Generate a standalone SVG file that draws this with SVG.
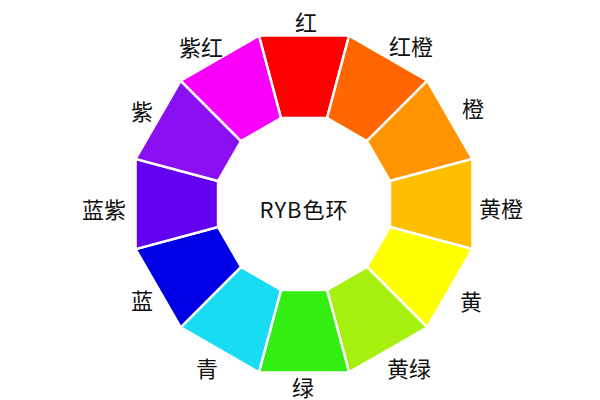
<svg xmlns="http://www.w3.org/2000/svg" width="600" height="400" viewBox="0 0 600 400">
<style>
.seg{stroke:#fff;stroke-width:2.5;stroke-linejoin:miter}
.lbl{font-family:"Noto Sans CJK SC","Noto Sans",sans-serif;font-size:22px;fill:#111;text-anchor:middle;dominant-baseline:central}
</style>
<rect width="600" height="400" fill="#fff"/>
<g id="red"><polygon class="seg" fill="#FF0000" points="258.86,35.55 349.14,35.55 327.03,118.03 280.97,118.03"/><text class="lbl" x="306" y="21">红</text></g>
<g id="red-orange"><polygon class="seg" fill="#FF6600" points="349.14,35.55 427.32,80.68 366.93,141.07 327.03,118.03"/><text class="lbl" x="411" y="45">红橙</text></g>
<g id="orange"><polygon class="seg" fill="#FF9400" points="427.32,80.68 472.45,158.86 389.97,181.03 366.93,141.07"/><text class="lbl" x="473" y="107">橙</text></g>
<g id="yellow-orange"><polygon class="seg" fill="#FFBF00" points="472.45,158.86 472.45,249.14 389.97,226.97 389.97,181.03"/><text class="lbl" x="501" y="207">黄橙</text></g>
<g id="yellow"><polygon class="seg" fill="#FFFF00" points="472.45,249.14 427.32,327.32 366.93,266.93 389.97,226.97"/><text class="lbl" x="471" y="300">黄</text></g>
<g id="yellow-green"><polygon class="seg" fill="#A6F010" points="427.32,327.32 349.14,372.45 327.03,289.97 366.93,266.93"/><text class="lbl" x="409" y="367">黄绿</text></g>
<g id="green"><polygon class="seg" fill="#33EE11" points="349.14,372.45 258.86,372.45 280.97,289.97 327.03,289.97"/><text class="lbl" x="303" y="385.5">绿</text></g>
<g id="cyan"><polygon class="seg" fill="#18DCF4" points="258.86,372.45 180.68,327.32 241.07,266.93 280.97,289.97"/><text class="lbl" x="207" y="367">青</text></g>
<g id="blue"><polygon class="seg" fill="#0000E6" points="180.68,327.32 135.55,249.14 218.03,226.97 241.07,266.93"/><text class="lbl" x="142" y="299">蓝</text></g>
<g id="blue-violet"><polygon class="seg" fill="#6400F0" points="135.55,249.14 135.55,158.86 218.03,181.03 218.03,226.97"/><text class="lbl" x="104" y="208">蓝紫</text></g>
<g id="violet"><polygon class="seg" fill="#8A10F2" points="135.55,158.86 180.68,80.68 241.07,141.07 218.03,181.03"/><text class="lbl" x="142" y="110">紫</text></g>
<g id="red-violet"><polygon class="seg" fill="#FA00FA" points="180.68,80.68 258.86,35.55 280.97,118.03 241.07,141.07"/><text class="lbl" x="201" y="46">紫红</text></g>
<g id="center"><text class="lbl" x="304" y="208" style="letter-spacing:1px">RYB色环</text></g>
<g id="connectors"/>
</svg>
